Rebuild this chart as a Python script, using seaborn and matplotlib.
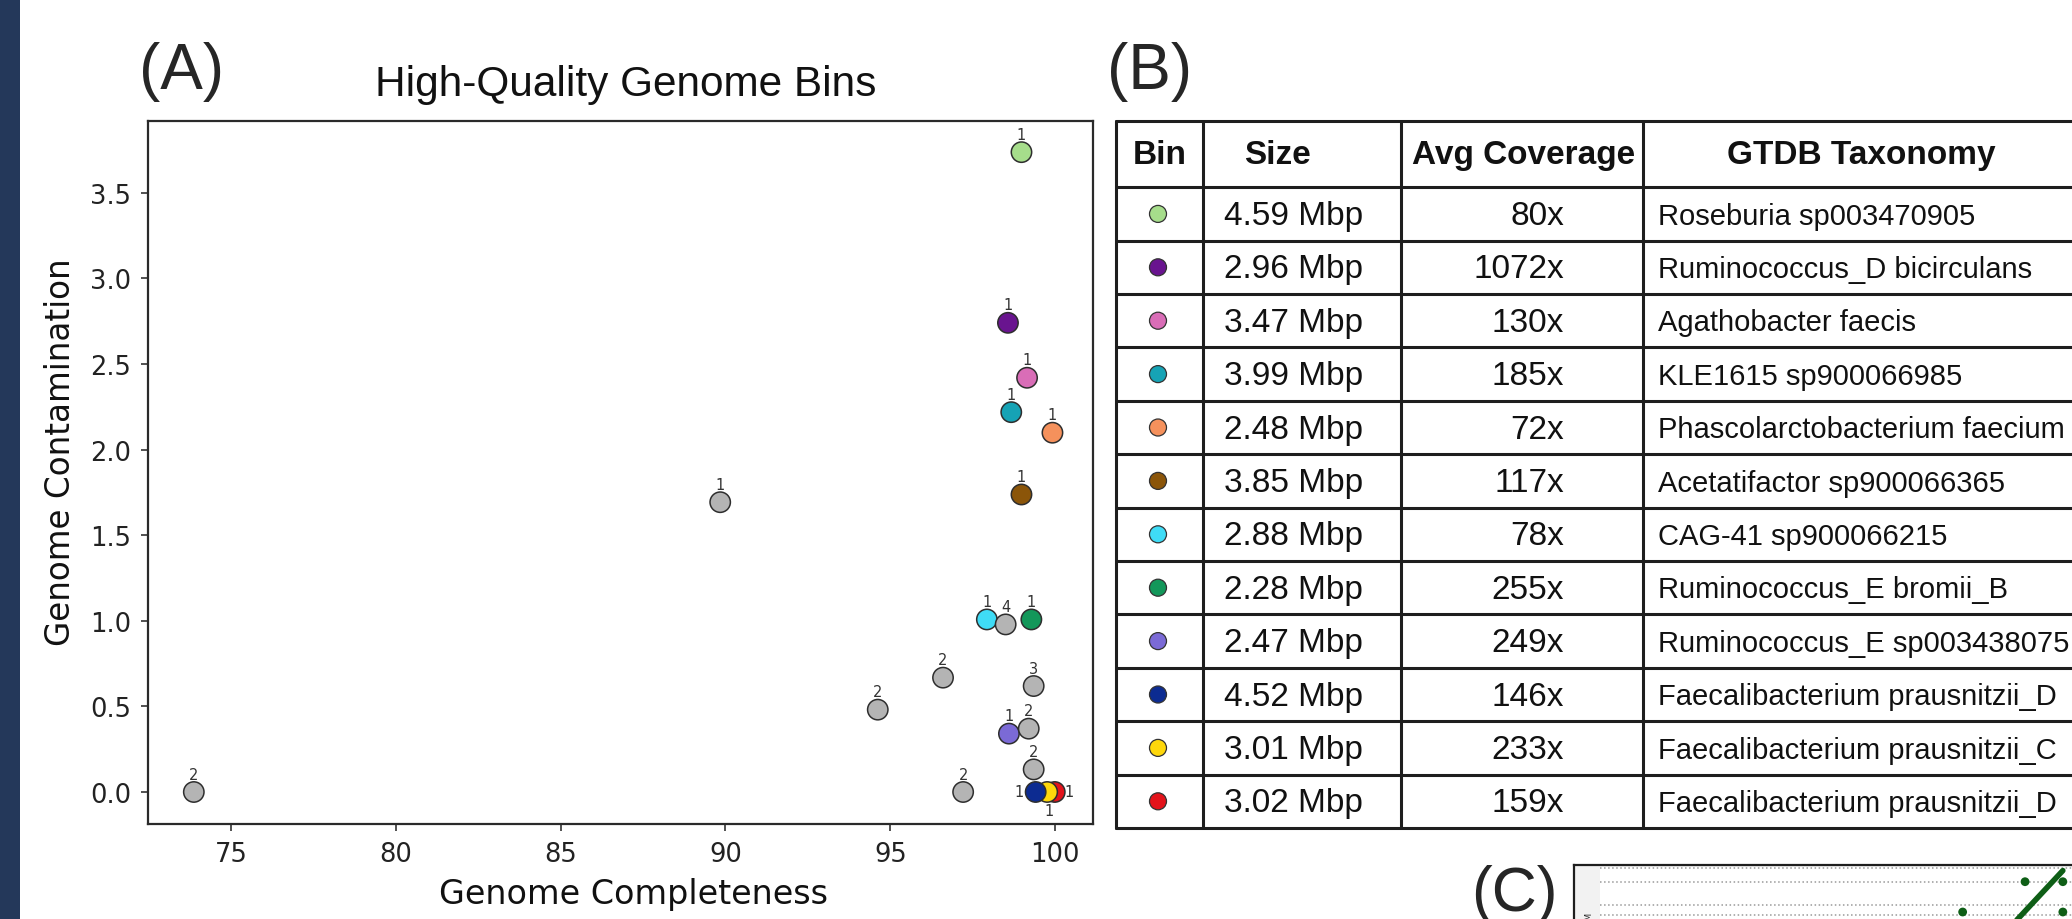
import numpy as np
import pandas as pd
import matplotlib
matplotlib.use("Agg")
import matplotlib.pyplot as plt
from matplotlib.patches import Rectangle
import seaborn as sns

# ---------------- data ----------------
bin_colors = ['#a6dd8b', '#69148f', '#d96db7', '#16a3b5', '#f5915c', '#8b5509',
              '#3fdcf6', '#13975a', '#7b6ad6', '#0c2b91', '#fed70b', '#e3131b']
bin_sizes = ['4.59 Mbp', '2.96 Mbp', '3.47 Mbp', '3.99 Mbp', '2.48 Mbp', '3.85 Mbp',
             '2.88 Mbp', '2.28 Mbp', '2.47 Mbp', '4.52 Mbp', '3.01 Mbp', '3.02 Mbp']
bin_coverage = ['80x', '1072x', '130x', '185x', '72x', '117x',
                '78x', '255x', '249x', '146x', '233x', '159x']
bin_taxonomy = ['Roseburia sp003470905', 'Ruminococcus_D bicirculans',
                'Agathobacter faecis', 'KLE1615 sp900066985',
                'Phascolarctobacterium faecium', 'Acetatifactor sp900066365',
                'CAG-41 sp900066215', 'Ruminococcus_E bromii_B',
                'Ruminococcus_E sp003438075', 'Faecalibacterium prausnitzii_D',
                'Faecalibacterium prausnitzii_C', 'Faecalibacterium prausnitzii_D']
hq_completeness = [98.98, 98.57, 99.15, 98.67, 99.92, 98.98,
                   97.93, 99.28, 98.60, 99.41, 99.76, 99.99]
hq_contamination = [3.738, 2.741, 2.420, 2.219, 2.099, 1.738,
                    1.008, 1.008, 0.341, 0.0, 0.0, 0.0]
hq_counts = [1, 1, 1, 1, 1, 1, 1, 1, 1, 1, 1, 1]
hq_label_side = ['above'] * 9 + ['left', 'below', 'right']

other_completeness = [89.84, 98.50, 96.60, 99.35, 94.62, 99.20, 99.35, 97.21, 73.87]
other_contamination = [1.693, 0.979, 0.668, 0.619, 0.481, 0.370, 0.132, 0.0, 0.0]
other_counts = [1, 4, 2, 3, 2, 2, 2, 2, 2]
other_color = '#b4b4b4'

x_ticks = [75, 80, 85, 90, 95, 100]
y_ticks = [0.0, 0.5, 1.0, 1.5, 2.0, 2.5, 3.0, 3.5]

table_header = ['Bin', 'Size', 'Avg Coverage', 'GTDB Taxonomy']

# panel C (partially visible dot plot), Mbp
dot_x = [1.417, 1.543, 1.209, 1.543]
dot_y = [2.111, 2.111, 2.010, 2.010]
seg_x = [1.300, 1.393, 1.543]
seg_y = [1.887, 1.987, 2.148]
c_grid = [2.0, 2.033, 2.111, 2.157]
c_grid_labels = ['2 M', '', '', '']

# ---------------- figure ----------------
sns.set_style('white')
plt.rcParams['font.family'] = ['DejaVu Sans']
W, H = 2072, 920
fig = plt.figure(figsize=(W / 100, H / 100), dpi=100)
fig.patch.set_facecolor('white')


def box(l, t, r, b):
    return [l / W, 1 - b / H, (r - l) / W, (b - t) / H]


# navy strip on the left
fig.patches.append(Rectangle((0, 0), 20 / W, 1, transform=fig.transFigure,
                             facecolor='#24385a', edgecolor='none', zorder=0))

SANS = ['Liberation Sans', 'DejaVu Sans']

# ---------------- panel A ----------------
ax = fig.add_axes(box(148, 122, 1093, 825))
names = [f'bin{i}' for i in range(len(bin_colors))]
df_hq = pd.DataFrame({'completeness': hq_completeness, 'contamination': hq_contamination,
                      'bin': names, 'count': hq_counts, 'side': hq_label_side})
df_other = pd.DataFrame({'completeness': other_completeness,
                         'contamination': other_contamination,
                         'bin': 'other', 'count': other_counts, 'side': 'above'})
df = pd.concat([df_hq.iloc[::-1], df_other], ignore_index=True)
palette = dict(zip(names, bin_colors))
palette['other'] = other_color

sns.scatterplot(data=df, x='completeness', y='contamination', hue='bin',
                palette=palette, s=215, edgecolor='#2e2e2e', linewidth=1.1,
                legend=False, ax=ax, zorder=3)

offsets = {'above': ((0, 7.5), 'center', 'bottom'),
           'left': ((-12, 0), 'center', 'center'),
           'right': ((10, 0), 'center', 'center'),
           'below': ((1.5, -13), 'center', 'center')}
for _, r in df.iterrows():
    off, ha, va = offsets[r['side']]
    ax.annotate(str(r['count']), (r['completeness'], r['contamination']),
                xytext=off, textcoords='offset points', ha=ha, va=va,
                fontsize=10.5, color='#333333', zorder=4)

ax.set_xlim(72.48, 101.15)
ax.set_ylim(-0.187, 3.92)
ax.set_xticks(x_ticks)
ax.set_yticks(y_ticks)
ax.set_yticklabels([f'{v:.1f}' for v in y_ticks])
ax.tick_params(labelsize=18.5, length=5, width=1.2, pad=7, color='#333333',
               labelcolor='#222222', left=True, bottom=True)
for s in ax.spines.values():
    s.set_linewidth(1.6)
    s.set_color('#2a2a2a')
ax.set_xlabel('Genome Completeness', fontsize=24, color='#111111')
ax.set_ylabel('Genome Contamination', fontsize=23.5, color='#111111')
ax.xaxis.set_label_coords(0.514, -0.075)
ax.yaxis.set_label_coords(-0.075, 0.53)
ax.text(0.506, 1.037, 'High-Quality Genome Bins', transform=ax.transAxes,
        ha='center', va='baseline', fontsize=30.5, family=SANS, color='#111111')

fig.text(139 / W, 1 - 89 / H, '(A)', fontsize=46, family=SANS, ha='left', va='baseline')
fig.text(1107 / W, 1 - 89 / H, '(B)', fontsize=46, family=SANS, ha='left', va='baseline')
fig.text(1471 / W, 1 - 911 / H, '(C)', fontsize=45, family=SANS, ha='left', va='baseline')

# ---------------- panel B (table) ----------------
tax = fig.add_axes(box(1116, 122, 2080, 829))
n = len(bin_colors)
hdr = 1.24
tax.set_xlim(0, 964)
tax.set_ylim(hdr + n, 0)
tax.axis('off')
col_edges = [0, 87, 285, 527, 964]
row_edges = [0, hdr] + [hdr + i for i in range(1, n + 1)]
for y in row_edges:
    tax.axhline(y, color='#1e1e1e', lw=2.2, clip_on=False)
for x in col_edges:
    tax.axvline(x, color='#1e1e1e', lw=2.2, clip_on=False)

hy = hdr / 2
hfont = dict(fontsize=24, fontweight='bold', family=SANS, va='center', color='#111111')
tax.text(44, hy, table_header[0], ha='center', **hfont)
tax.text(128, hy, table_header[1], ha='left', **hfont)
tax.text(408, hy, table_header[2], ha='center', **hfont)
tax.text(745, hy, table_header[3], ha='center', **hfont)

row_c = [hdr + i + 0.5 for i in range(n)]
tax.scatter([42] * n, row_c, c=bin_colors, s=150, edgecolors='#333333',
            linewidths=0.9, zorder=3)
for i in range(n):
    tax.text(108, row_c[i] + 0.03, bin_sizes[i], ha='left', va='center',
             fontsize=24, family=SANS, color='#111111')
    tax.text(448, row_c[i] + 0.03, bin_coverage[i], ha='right', va='center',
             fontsize=24, family=SANS, color='#111111')
    tax.text(542, row_c[i] + 0.03, bin_taxonomy[i], ha='left', va='center',
             fontsize=21, family=SANS, color='#111111')

# ---------------- panel C (cropped) ----------------
cout = fig.add_axes(box(1574, 866, 2500, 1700))
cout.set_facecolor('#f2f2f2')
cout.set_xticks([])
cout.set_yticks([])
for k in ['right', 'bottom']:
    cout.spines[k].set_visible(False)
for k in ['top', 'left']:
    cout.spines[k].set_linewidth(1.6)
    cout.spines[k].set_color('#1e1e1e')

cin = fig.add_axes(box(1600, 868, 2400, 1516))
cin.set_facecolor('white')
for s in cin.spines.values():
    s.set_visible(False)
cin.set_xlim(0, 2.667)
cin.set_ylim(0, 2.16)
cin.set_xticks([])
cin.set_yticks(c_grid, labels=c_grid_labels)
cin.tick_params(axis='y', labelsize=6, length=3, pad=1, color='#888888',
                labelrotation=90)
cin.grid(axis='y', ls=':', color='#9a9a9a', lw=1.1)
cin.plot(seg_x, seg_y, color='#0e5e16', lw=4, solid_capstyle='round')
sns.scatterplot(x=dot_x, y=dot_y, color='#0e5e16', s=40, edgecolor='none',
                ax=cin, zorder=3)

fig.savefig('out.png', dpi=100)
